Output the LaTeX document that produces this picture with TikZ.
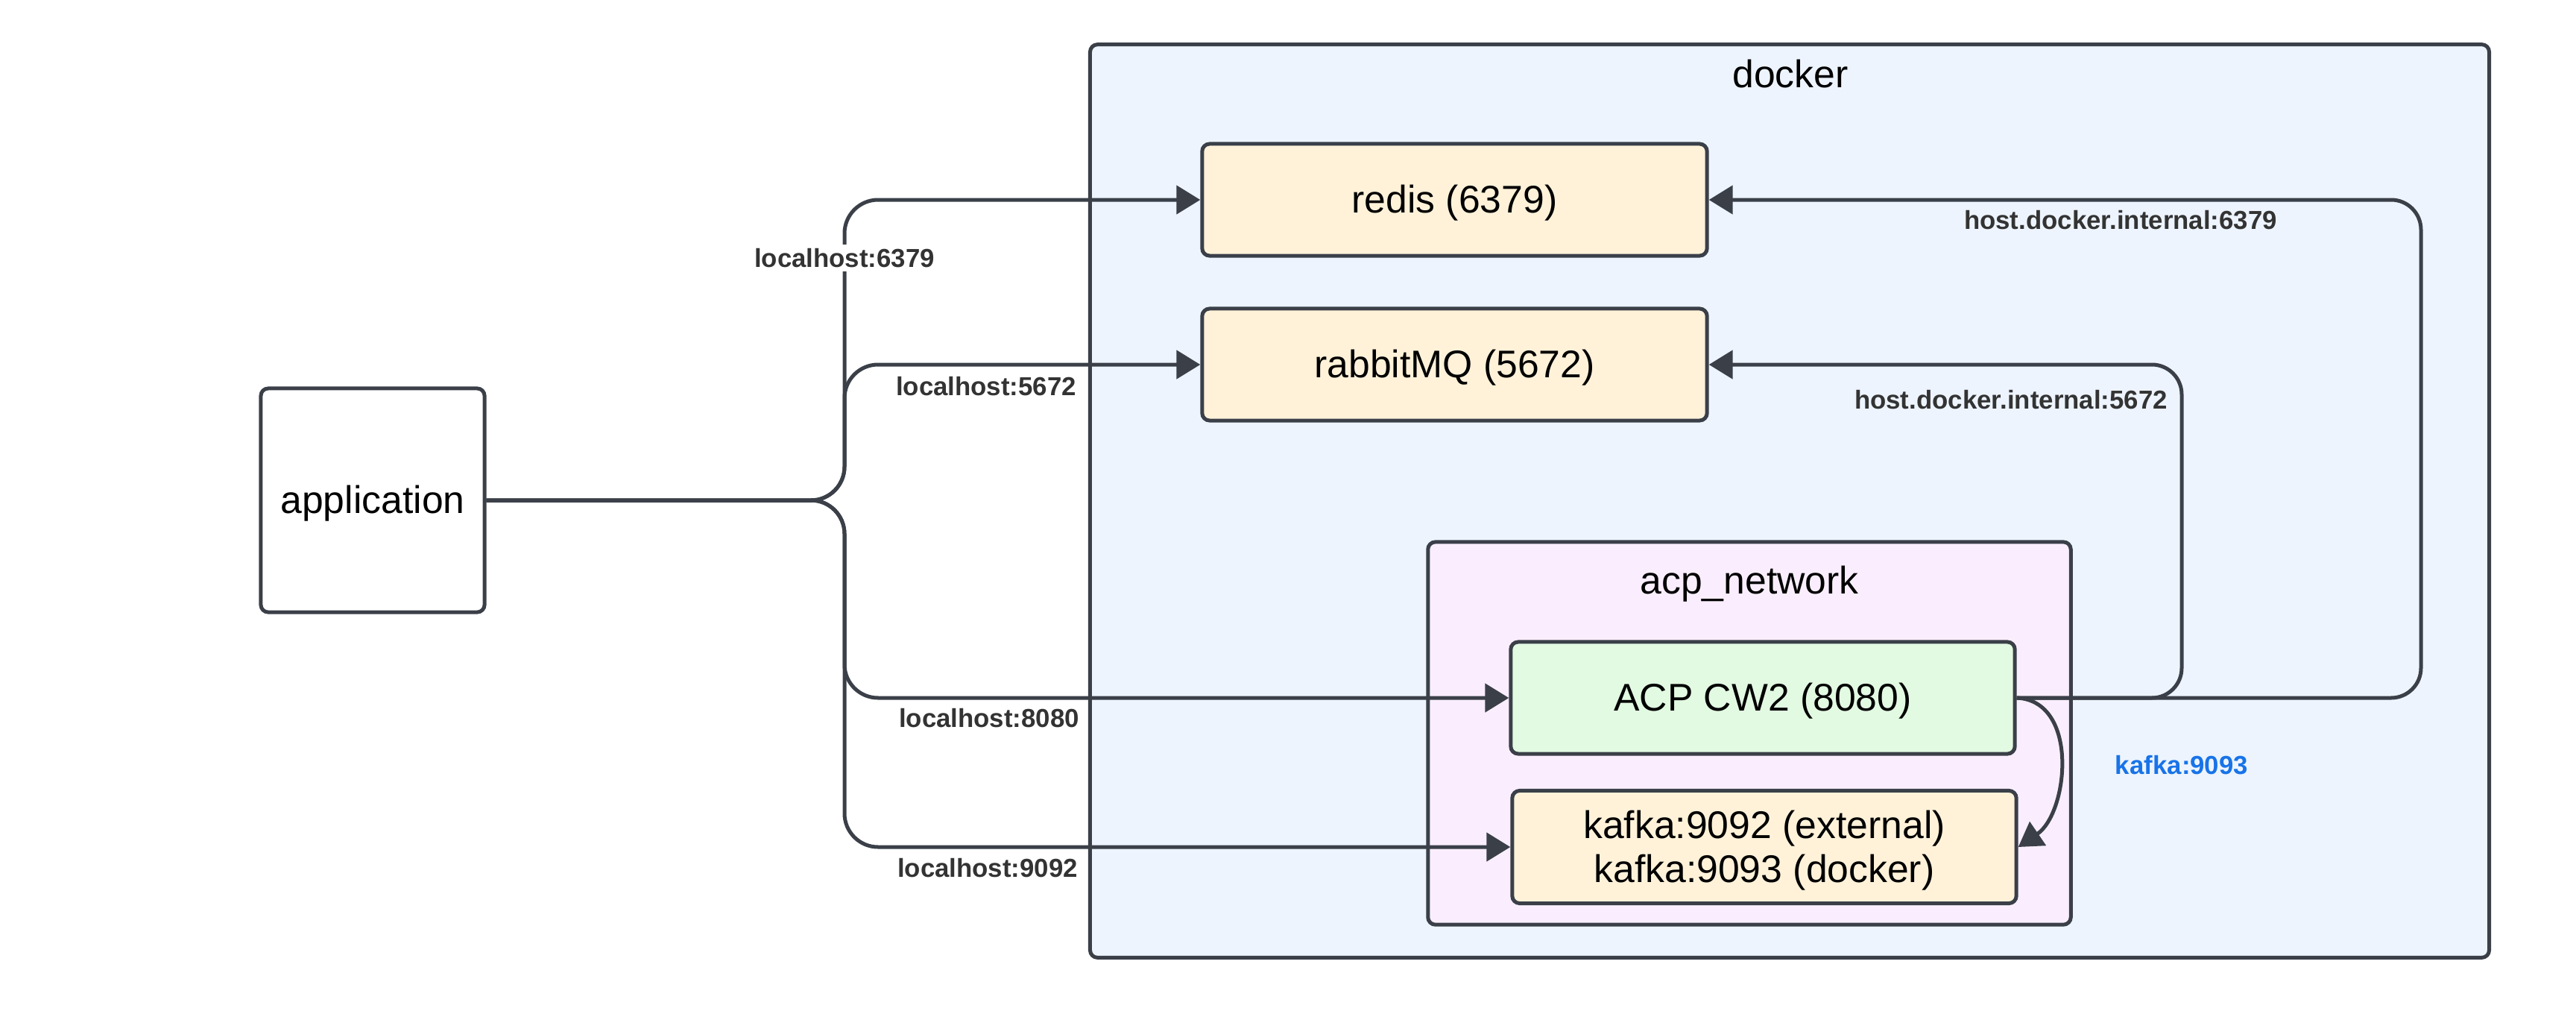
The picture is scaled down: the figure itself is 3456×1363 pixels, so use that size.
\documentclass[tikz,border=0pt]{standalone}
\usepackage{fontspec}
\setmainfont{Liberation Sans}
\usetikzlibrary{arrows.meta}
\definecolor{lineclr}{RGB}{58,63,72}
\definecolor{dockerfill}{RGB}{237,244,254}
\definecolor{netfill}{RGB}{250,238,254}
\definecolor{yellowfill}{RGB}{255,242,217}
\definecolor{greenfill}{RGB}{226,249,226}
\definecolor{labelclr}{RGB}{51,51,51}
\definecolor{blueclr}{RGB}{24,115,232}
\tikzset{
  boxstyle/.style={draw=lineclr, line width=0.05cm, rounded corners=0.1cm, align=center,
    font=\fontsize{14.7}{16.8}\selectfont, text=black, inner sep=0pt},
  onetext/.style={text height=0.46cm, text depth=0.11cm},
  groupbox/.style={draw=lineclr, line width=0.05cm, rounded corners=0.1cm, inner sep=0pt},
  conn/.style={draw=lineclr, line width=0.05cm, rounded corners=0.45cm,
    -{Triangle[length=0.32cm,width=0.38cm]}},
  elabel/.style={font=\fontsize{9.9}{12}\selectfont\bfseries, text=labelclr, inner sep=0.05cm},
  grouplabel/.style={font=\fontsize{14.7}{17.5}\selectfont, text=black, anchor=base, inner sep=0pt}
}
\begin{document}
\begin{tikzpicture}[x=0.01cm, y=-0.01cm]
\useasboundingbox[fill=white] (0,0) rectangle (3456,1363);
% groups
\node[groupbox, fill=dockerfill, minimum width=18.76cm, minimum height=12.24cm] (docker) at (2401,672) {};
\node[grouplabel] (dockerlbl) at (2402,117) {docker};
\node[groupbox, fill=netfill, minimum width=8.62cm, minimum height=5.13cm] (net) at (2347,983.5) {};
\node[grouplabel] (netlbl) at (2347,796) {acp\_network};
% nodes
\node[boxstyle, onetext, fill=white, minimum width=3.0cm, minimum height=3.0cm] (app) at (500,671) {application};
\node[boxstyle, onetext, fill=yellowfill, minimum width=6.77cm, minimum height=1.5cm] (redis) at (1951.5,268) {redis (6379)};
\node[boxstyle, onetext, fill=yellowfill, minimum width=6.77cm, minimum height=1.5cm] (rabbit) at (1951.5,489) {rabbitMQ (5672)};
\node[boxstyle, onetext, fill=greenfill, minimum width=6.76cm, minimum height=1.5cm] (acp) at (2365,936) {ACP CW2 (8080)};
\node[boxstyle, fill=yellowfill, minimum width=6.76cm, minimum height=1.51cm] (kafka) at (2367,1136) {\rule{0pt}{0.46cm}kafka:9092 (external)\\kafka:9093 (docker)};
% connectors from application
\draw[conn] (app.east) -- (1133,671) -- (1133,268) -- (redis.west);
\draw[conn] (app.east) -- (1133,671) -- (1133,489) -- (rabbit.west);
\draw[conn] (app.east) -- (1133,671) -- (1133,936) -- (acp.west);
\draw[conn] (app.east) -- (1133,671) -- (1133,1136) -- (kafka.west);
% connectors from ACP
\draw[conn, rounded corners=0.4cm] (acp.east) -- (3248,936) -- (3248,268) -- (redis.east);
\draw[conn, rounded corners=0.4cm] (acp.east) -- (2927,936) -- (2927,489) -- (rabbit.east);
\draw[conn] (acp.east) .. controls (2790,940) and (2775,1090) .. (kafka.east);
% labels
\node[elabel, fill=white] (l6379) at (1133,346) {localhost:6379};
\node[elabel] (l5672) at (1323,518) {localhost:5672};
\node[elabel] (l8080) at (1327,963) {localhost:8080};
\node[elabel] (l9092) at (1325,1164) {localhost:9092};
\node[elabel] (h6379) at (2845,295) {host.docker.internal:6379};
\node[elabel] (h5672) at (2698,536) {host.docker.internal:5672};
\node[elabel, text=blueclr] (k9093) at (2927,1026) {kafka:9093};
\end{tikzpicture}
\end{document}
